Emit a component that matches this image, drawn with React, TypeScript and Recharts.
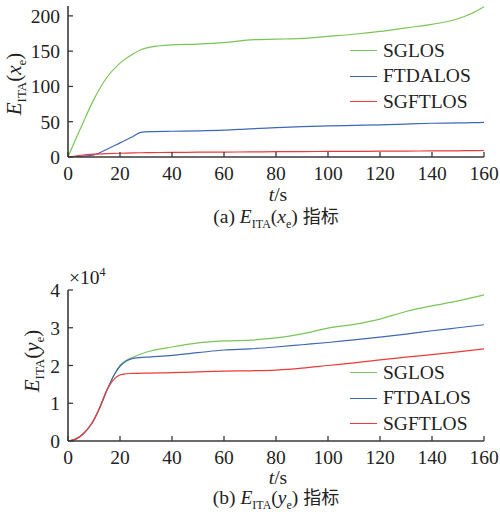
import { LineChart, Line, XAxis, YAxis } from 'recharts';

const time = [0, 5, 10, 15, 20, 25, 28, 32, 40, 50, 60, 70, 80, 90, 100, 110, 120, 130, 140, 150, 155, 160];

const sglosX = [0, 42, 82, 113, 133, 146, 152, 156, 159, 160, 162, 166, 167, 168, 171, 174, 178, 183, 188, 196, 203, 213];
const ftdalosX = [0, 1, 3, 11, 20, 29, 35, 36, 36.5, 37, 38, 40, 41.5, 43, 44, 44.8, 45.5, 46.7, 47.8, 48.3, 48.6, 49];
const sgftlosX = [0, 2.5, 4, 4.8, 5.3, 5.8, 6, 6.2, 6.5, 6.8, 7, 7.2, 7.5, 7.7, 7.9, 8, 8.2, 8.4, 8.6, 8.8, 9, 9.2];

const time2 = [0, 3, 6, 9, 12, 15, 18, 20, 22, 25, 30, 40, 50, 60, 70, 80, 90, 100, 110, 120, 130, 140, 150, 160];
const sglosY = [0, 0.05, 0.2, 0.45, 0.85, 1.35, 1.78, 2.0, 2.12, 2.22, 2.35, 2.49, 2.6, 2.65, 2.67, 2.73, 2.84, 2.99, 3.09, 3.23, 3.43, 3.58, 3.71, 3.87];
const ftdalosY = [0, 0.05, 0.2, 0.45, 0.85, 1.35, 1.78, 1.98, 2.1, 2.19, 2.22, 2.27, 2.34, 2.41, 2.44, 2.49, 2.55, 2.61, 2.68, 2.75, 2.83, 2.92, 3.0, 3.08];
const sgftlosY = [0, 0.05, 0.2, 0.45, 0.85, 1.35, 1.66, 1.75, 1.78, 1.79, 1.8, 1.81, 1.83, 1.85, 1.86, 1.88, 1.93, 2.0, 2.07, 2.15, 2.22, 2.29, 2.36, 2.44];

const xTicks = [0, 20, 40, 60, 80, 100, 120, 140, 160];
const yTicksA = [0, 50, 100, 150, 200];
const yTicksB = [0, 1, 2, 3, 4];

const seriesNames = ['SGLOS', 'FTDALOS', 'SGFTLOS'];
const colors = ['#7ac556', '#3f68b3', '#ec3a3c'];

const dataA = time.map((t, i) => ({ t, a: sglosX[i], b: ftdalosX[i], c: sgftlosX[i] }));
const dataB = time2.map((t, i) => ({ t, a: sglosY[i], b: ftdalosY[i], c: sgftlosY[i] }));

const font = '"Liberation Serif", "Times New Roman", serif';
const axisColor = '#3a3a3a';
const fs = 19.5;

const BottomTick = (props: any) => {
  const { x, y, payload } = props;
  return (
    <g>
      <line x1={x} x2={x} y1={y} y2={y - 5} stroke={axisColor} strokeWidth={1.3} />
      <text x={x} y={y + 23} textAnchor="middle" fontFamily={font} style={{ fontFamily: font, fontSize: fs }} fill="#222">
        {payload.value}
      </text>
    </g>
  );
};

const LeftTick = (props: any) => {
  const { x, y, payload } = props;
  return (
    <g>
      <line x1={x} x2={x + 5} y1={y} y2={y} stroke={axisColor} strokeWidth={1.3} />
      <text x={x - 8} y={y + 7} textAnchor="end" fontFamily={font} style={{ fontFamily: font, fontSize: fs }} fill="#222">
        {payload.value}
      </text>
    </g>
  );
};

const LegendBox = ({ top }: { top: number }) => (
  <div style={{ position: 'absolute', left: 350, top, fontFamily: font, fontSize: fs, color: '#222' }}>
    {seriesNames.map((n, i) => (
      <div key={n} style={{ display: 'flex', alignItems: 'center', height: 25.5 }}>
        <div style={{ width: 27, height: 0, borderTop: `1.5px solid ${colors[i]}`, marginRight: 6 }} />
        <span>{n}</span>
      </div>
    ))}
  </div>
);

// plot area: 151px tall, starting at `top`; 6px spare below tick labels
const Panel = ({ data, domain, yTicks, top }: any) => (
  <LineChart width={500} height={top + 180} data={data} margin={{ top, right: 16, left: 0, bottom: 6 }}>
    <XAxis
      dataKey="t"
      type="number"
      domain={[0, 160]}
      ticks={xTicks}
      tickLine={false}
      tickSize={0}
      tickMargin={0}
      height={23}
      interval={0}
      axisLine={{ stroke: axisColor, strokeWidth: 1.6 }}
      tick={<BottomTick />}
    />
    <XAxis xAxisId="top" orientation="top" type="number" domain={[0, 160]} height={0} tick={false} tickLine={false} axisLine={{ stroke: axisColor, strokeWidth: 1.6 }} />
    <YAxis
      type="number"
      domain={domain}
      ticks={yTicks}
      allowDataOverflow
      tickLine={false}
      tickSize={0}
      tickMargin={0}
      width={68}
      interval={0}
      axisLine={{ stroke: axisColor, strokeWidth: 1.6 }}
      tick={<LeftTick />}
    />
    <YAxis yAxisId="right" orientation="right" type="number" domain={domain} width={0} tick={false} tickLine={false} axisLine={{ stroke: axisColor, strokeWidth: 1.6 }} />
    <Line type="monotone" dataKey="a" name={seriesNames[0]} stroke={colors[0]} strokeWidth={1.2} dot={false} isAnimationActive={false} />
    <Line type="monotone" dataKey="b" name={seriesNames[1]} stroke={colors[1]} strokeWidth={1.2} dot={false} isAnimationActive={false} />
    <Line type="monotone" dataKey="c" name={seriesNames[2]} stroke={colors[2]} strokeWidth={1.2} dot={false} isAnimationActive={false} />
  </LineChart>
);

const YLabel = ({ v, top, left }: { v: string; top: number; left: number }) => (
  <div
    style={{
      position: 'absolute',
      left,
      top,
      transform: 'translate(-50%, -50%) rotate(-90deg)',
      fontFamily: font,
      fontSize: 21,
      whiteSpace: 'nowrap',
      color: '#222',
      lineHeight: 1,
    }}
  >
    <i>E</i>
    <sub style={{ fontSize: 13 }}>ITA</sub>(<i>{v}</i>
    <sub style={{ fontSize: 13 }}>e</sub>)
  </div>
);

const Caption = ({ label, v, top }: { label: string; v: string; top: number }) => (
  <div
    style={{
      position: 'absolute',
      left: 276,
      top,
      transform: 'translateX(-50%)',
      fontFamily: font,
      fontSize: fs,
      whiteSpace: 'nowrap',
      color: '#222',
      lineHeight: 1,
    }}
  >
    ({label}) <i>E</i>
    <sub style={{ fontSize: 12 }}>ITA</sub>(<i>{v}</i>
    <sub style={{ fontSize: 12 }}>e</sub>) <span style={{ fontFamily: '"Noto Sans CJK SC", sans-serif', fontSize: 18 }}>指标</span>
  </div>
);

const TLabel = ({ top }: { top: number }) => (
  <div style={{ position: 'absolute', left: 278, top, transform: 'translateX(-50%)', fontFamily: font, fontSize: fs, color: '#222', lineHeight: 1 }}>
    <i>t</i>/s
  </div>
);

export default function App() {
  return (
    <div style={{ position: 'absolute', left: 0, top: 0, width: 500, height: 516, background: '#fff', fontFamily: font }}>
      <div style={{ position: 'absolute', left: 0, top: 0 }}>
        <Panel data={dataA} domain={[0, 214]} yTicks={yTicksA} top={6} />
      </div>
      <div style={{ position: 'absolute', left: 0, top: 274 }}>
        <Panel data={dataB} domain={[0, 4]} yTicks={yTicksB} top={16} />
      </div>
      <LegendBox top={38} />
      <LegendBox top={360} />
      <YLabel v="x" top={84} left={16} />
      <YLabel v="y" top={361} left={34} />
      <TLabel top={185} />
      <TLabel top={468} />
      <Caption label="a" v="x" top={206} />
      <Caption label="b" v="y" top={487} />
      <div style={{ position: 'absolute', left: 69, top: 266, fontFamily: font, fontSize: fs, color: '#222', lineHeight: 1 }}>
        ×10<sup style={{ fontSize: 12 }}>4</sup>
      </div>
    </div>
  );
}
